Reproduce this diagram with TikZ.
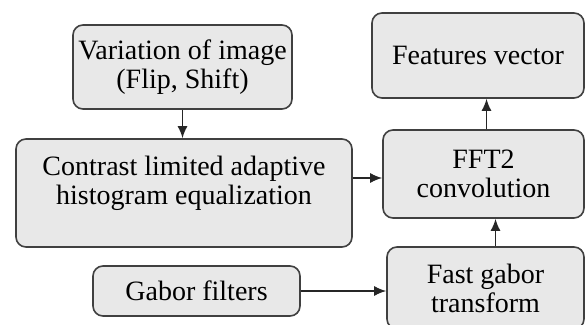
\documentclass[tikz,border=0pt]{standalone}
\usepackage{fontspec}
\setmainfont{Liberation Serif}
\newfontfamily\boxfont{Liberation Serif}
\usetikzlibrary{shapes.geometric, arrows.meta, positioning}
\definecolor{boxfill}{RGB}{232,232,232}
\definecolor{boxline}{RGB}{64,64,64}
\tikzstyle{block} = [rectangle, rounded corners=10pt, draw=boxline, line width=1.6pt, fill=boxfill, text centered, align=center, font=\boxfont\fontsize{28}{29}\selectfont]
\tikzstyle{plain} = [align=center, font=\boxfont\fontsize{28}{29}\selectfont]
\tikzstyle{arrow} = [line width=1.6pt, draw=black!85, -{Latex[length=12pt, width=10pt]}]

\begin{document}
\begin{tikzpicture}[x=1pt, y=1pt, node distance=120pt]
    \clip (0,0) rectangle (585,324);

    % Left column
    \node (var) [block, minimum width=219pt, minimum height=84pt] at (182.5,257) {Variation of image\\(Flip, Shift)};
    \node (cont) [block, below of=var, xshift=1.5pt, yshift=-6pt, minimum width=336pt, minimum height=108pt] {};
    \node (cont_text) [plain, yshift=10pt] at (cont) {Contrast limited adaptive\\histogram equalization};
    \node (gabor) [block, below of=cont, xshift=12.5pt, yshift=22pt, minimum width=207pt, minimum height=50pt] {Gabor filters};

    % Right column
    \node (fft) [block, right of=cont, xshift=179.5pt, yshift=19pt, minimum width=201pt, minimum height=88pt] {FFT2\\convolution};
    \node (feat) [block, above of=fft, xshift=-5.5pt, yshift=-1.5pt, minimum width=212pt, minimum height=85pt] {Features vector};
    \node (fast) [block, below of=fft, xshift=2pt, yshift=6pt, minimum width=197pt, minimum height=82pt] {Fast gabor\\transform};

    % ==== Arrows
    \draw [arrow] (var.south) -- (var.south |- cont.north);
    \draw [arrow] ([yshift=-4pt]cont.east |- fft.west) -- ([yshift=-4pt]fft.west);
    \draw [arrow] ([xshift=3pt]fft.north) -- ([xshift=3pt]fft.north |- feat.south);
    \draw [arrow] ([xshift=10pt]fast.north) -- ([xshift=10pt]fast.north |- fft.south);
    \draw [arrow] (gabor.east) -- (gabor.east -| fast.west);

\end{tikzpicture}
\end{document}
